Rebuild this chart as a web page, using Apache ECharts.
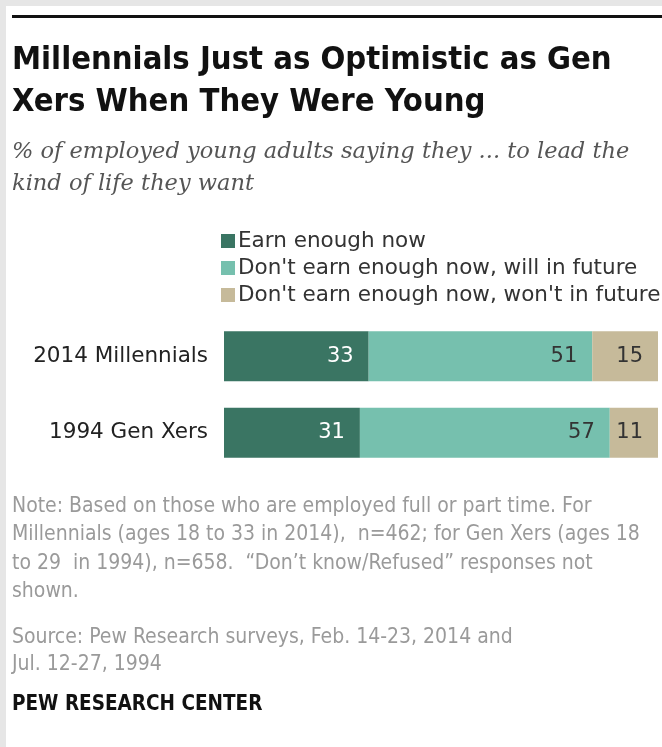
<!DOCTYPE html>
<html>
<head>
<meta charset="utf-8">
<script src="https://cdn.jsdelivr.net/npm/echarts@6/dist/echarts.min.js"></script>
<style>
  html, body { margin: 0; padding: 0; background: #ffffff; }
  #chart { width: 662px; height: 747px; }
</style>
</head>
<body>
<div id="chart"></div>
<script>
// Survey groups and response shares (%)
const categories = ['2014 Millennials', '1994 Gen Xers'];
const seriesNames = [
  'Earn enough now',
  "Don't earn enough now, will in future",
  "Don't earn enough now, won't in future"
];
const earnNow = [33, 31];
const willInFuture = [51, 57];
const wontInFuture = [15, 11];

const titleLines = [
  'Millennials Just as Optimistic as Gen',
  'Xers When They Were Young'
];
const subtitleLines = [
  '% of employed young adults saying they ... to lead the',
  'kind of life they want'
];
const noteLines = [
  'Note: Based on those who are employed full or part time. For',
  'Millennials (ages 18 to 33 in 2014),  n=462; for Gen Xers (ages 18',
  'to 29  in 1994), n=658.  \u201cDon\u2019t know/Refused\u201d responses not',
  'shown.'
];
const sourceLines = [
  'Source: Pew Research surveys, Feb. 14-23, 2014 and',
  'Jul. 12-27, 1994'
];
const brand = 'PEW RESEARCH CENTER';

const colors = ['#3a7563', '#76c0ae', '#c6ba9a'];
const labelColors = ['#ffffff', '#333333', '#333333'];
const values = [earnNow, willInFuture, wontInFuture];

const chart = echarts.init(document.getElementById('chart'), null, { renderer: 'canvas' });

const textFont = '"Liberation Sans Narrow", "DejaVu Sans Condensed", sans-serif';

const graphics = [
  // frame: light grey strips on top and left
  { type: 'rect', shape: { x: 0, y: 0, width: 662, height: 6 }, style: { fill: '#e6e6e6' }, silent: true },
  { type: 'rect', shape: { x: 0, y: 0, width: 6, height: 747 }, style: { fill: '#e6e6e6' }, silent: true },
  // heavy rule above the title
  { type: 'rect', shape: { x: 12, y: 15, width: 650, height: 3 }, style: { fill: '#111111' }, silent: true }
];

titleLines.forEach((t, i) => {
  graphics.push({
    type: 'text', left: 12, top: 44 + i * 42, silent: true,
    style: { text: t, font: 'bold 32.5px ' + textFont, fill: '#111111' }
  });
});
subtitleLines.forEach((t, i) => {
  graphics.push({
    type: 'text', left: 12, top: 141 + i * 32, silent: true,
    style: { text: t, font: 'italic 22.5px "DejaVu Serif", serif', fill: '#555555' }
  });
});
noteLines.forEach((t, i) => {
  graphics.push({
    type: 'text', left: 12, top: 496 + i * 28.5, silent: true,
    style: { text: t, font: '21px ' + textFont, fill: '#9a9a9a' }
  });
});
sourceLines.forEach((t, i) => {
  graphics.push({
    type: 'text', left: 12, top: 627 + i * 27, silent: true,
    style: { text: t, font: '21px ' + textFont, fill: '#9a9a9a' }
  });
});
graphics.push({
  type: 'text', left: 12, top: 694, silent: true,
  style: { text: brand, font: 'bold 20.5px ' + textFont, fill: '#111111' }
});

const option = {
  animation: false,
  backgroundColor: '#ffffff',
  graphic: graphics,
  legend: {
    orient: 'vertical',
    left: 216,
    top: 225,
    itemWidth: 14,
    itemHeight: 14,
    itemGap: 5,
    icon: 'rect',
    selectedMode: false,
    textStyle: { fontSize: 21.5, color: '#333333', fontFamily: '"DejaVu Sans", sans-serif', padding: [0, 0, 0, -2] },
    data: seriesNames
  },
  grid: { left: 224, right: 4, top: 318, height: 153 },
  xAxis: { type: 'value', min: 0, max: 99, show: false },
  yAxis: {
    type: 'category',
    data: categories,
    inverse: true,
    axisLine: { show: false },
    axisTick: { show: false },
    axisLabel: { fontSize: 21.5, color: '#222222', margin: 16, fontFamily: '"DejaVu Sans", sans-serif' }
  },
  series: seriesNames.map((name, i) => ({
    name: name,
    type: 'bar',
    stack: 'total',
    barWidth: 50,
    data: values[i],
    itemStyle: { color: colors[i] },
    label: {
      show: true,
      position: 'insideRight',
      distance: 15,
      fontSize: 21,
      color: labelColors[i],
      fontFamily: '"DejaVu Sans", sans-serif'
    }
  }))
};

chart.setOption(option);
</script>
</body>
</html>
